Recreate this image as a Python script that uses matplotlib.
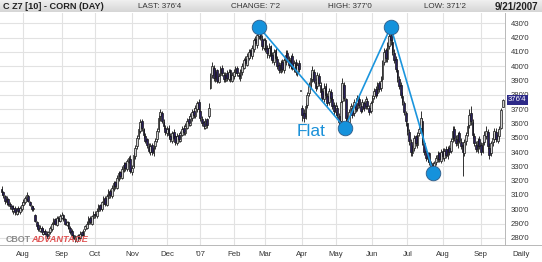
import numpy as np
import pandas as pd
import matplotlib
matplotlib.use('Agg')
import matplotlib.pyplot as plt
from matplotlib.lines import Line2D

plt.rcParams['font.family'] = ['Liberation Sans', 'DejaVu Sans']

# ---------------- data ----------------
holidays = ['2006-09-04', '2006-11-23', '2006-12-25', '2007-01-01', '2007-01-02',
            '2007-01-15', '2007-02-19', '2007-04-06', '2007-05-28', '2007-07-04', '2007-09-03']
start_date, end_date = '2006-07-13', '2007-09-21'

opens = [
    314, 312, 309, 305, 307, 304, 302, 299, 301, 297, 301, 298, 300,
    303, 305, 307, 309, 305, 302, 300, 296, 291, 289, 285, 287, 283, 285, 283, 280, 284, 286, 290, 293, 289, 294, 292,
    294, 296, 293, 289, 291, 287, 285, 282, 280, 278, 282, 280, 284, 281, 286, 287, 290, 294, 290, 294,
    297, 295, 299, 303, 300, 304, 308, 303, 308, 313, 309, 314, 319, 315, 321, 326, 322, 327, 332, 328, 333, 335,
    326, 330, 337, 344, 351, 355, 362, 356, 351, 349, 344, 340, 345, 339, 344, 349, 356, 365, 367, 361, 357,
    353, 357, 351, 348, 354, 351, 346, 352, 348, 352, 357, 353, 357, 363, 359, 364, 369, 365, 370, 375,
    369, 363, 361, 357, 363, 365, 385, 394, 399, 391, 397, 389, 394, 399, 394, 390, 395, 391, 397, 390,
    393, 395, 399, 394, 392, 396, 399, 405, 401, 406, 411, 407, 412, 419, 415, 421, 427, 419, 413,
    418, 413, 408, 414, 408, 403, 411, 405, 401, 396, 403, 397, 403, 409, 404, 400, 407, 398, 403, 395, 402, 383,
    371, 367, 365, 373, 381, 387, 391, 396, 389, 386, 393, 387, 383, 377, 386, 379, 375, 382, 377, 373,
    368, 371, 365, 362, 376, 387, 377, 363, 361, 369, 371, 367, 374, 371, 377, 372, 370, 374, 372, 376, 371, 369,
    375, 379, 384, 381, 388, 385, 391, 403, 411, 405, 414, 422, 417, 409, 405, 397, 391, 387, 379, 374, 367,
    360, 354, 347, 339, 343, 351, 345, 353, 357, 362, 346, 341, 335, 339, 332, 331, 327, 333, 335, 339, 334,
    341, 336, 342, 337, 343, 341, 349, 356, 349, 345, 353, 347, 345, 339, 348, 353, 359, 367, 361, 351, 345, 341, 349,
    345, 341, 347, 351, 354, 343, 339, 347, 349, 354, 348, 351, 357, 371.5,
]
highs = [
    316, 313, 310, 309, 308, 305, 303, 303, 302, 301, 302, 302, 305,
    307, 309, 312, 310, 306, 303, 302, 297, 292, 290, 289, 288, 287, 286, 285, 285, 288, 291, 294, 294, 295, 295, 297,
    298, 297, 294, 292, 292, 288, 286, 283, 282, 282, 283, 285, 285, 286, 289, 292, 295, 295, 296, 299,
    299, 301, 304, 304, 306, 309, 309, 311, 314, 314, 317, 320, 320, 324, 327, 327, 330, 333, 333, 335, 337, 338,
    331, 340, 345, 352, 358, 363, 363, 357, 353, 350, 346, 346, 346, 345, 350, 357, 366, 370, 369, 363, 359,
    358, 359, 353, 355, 356, 352, 353, 353, 355, 358, 359, 360, 364, 365, 367, 370, 371, 373, 376, 377,
    370, 365, 362, 364, 364, 374, 395, 403, 401, 398, 398, 395, 400, 401, 396, 396, 397, 398, 398, 396,
    398, 400, 400, 396, 398, 402, 406, 407, 409, 412, 412, 415, 420, 421, 424, 429, 430, 422, 420,
    420, 415, 416, 415, 410, 412, 413, 407, 403, 404, 405, 406, 411, 411, 407, 408, 409, 404, 405, 403, 404, 383,
    373, 370, 374, 382, 389, 395, 400, 398, 392, 396, 395, 389, 385, 388, 388, 381, 385, 384, 379, 375,
    375, 373, 367, 377, 392, 389, 378, 366, 370, 374, 373, 377, 376, 380, 379, 374, 377, 376, 379, 378, 373, 376,
    380, 385, 386, 389, 390, 393, 404, 413, 413, 417, 424, 425, 419, 412, 407, 399, 393, 389, 382, 376, 369,
    361, 356, 349, 345, 352, 352, 354, 358, 369, 364, 348, 343, 340, 340, 334, 333, 334, 338, 341, 340, 342,
    343, 343, 344, 344, 345, 350, 358, 358, 352, 354, 355, 350, 347, 349, 354, 361, 370, 372, 363, 353, 348, 350, 351,
    347, 348, 355, 358, 356, 346, 348, 353, 357, 357, 355, 358, 371, 377,
]
lows = [
    310, 308, 304, 303, 302, 300, 298, 297, 296, 296, 297, 297, 299,
    302, 304, 306, 305, 302, 299, 299, 291, 287, 285, 284, 283, 282, 282, 280, 279, 283, 285, 289, 289, 288, 291, 291,
    293, 292, 289, 288, 286, 283, 281, 279, 277, 277, 279, 279, 281, 280, 285, 286, 289, 290, 289, 293,
    294, 294, 298, 299, 299, 303, 302, 302, 307, 308, 308, 313, 314, 314, 320, 321, 321, 326, 327, 327, 332, 325,
    324, 329, 335, 342, 349, 353, 355, 350, 346, 343, 339, 338, 338, 337, 342, 347, 354, 362, 360, 356, 352,
    351, 350, 347, 346, 349, 345, 345, 347, 347, 351, 352, 352, 356, 358, 358, 362, 364, 364, 368, 368,
    362, 358, 356, 356, 357, 364, 384, 392, 390, 389, 388, 388, 393, 393, 389, 389, 390, 390, 389, 389,
    391, 393, 393, 391, 390, 394, 398, 400, 400, 404, 406, 405, 410, 414, 413, 419, 418, 411, 411,
    410, 406, 406, 405, 402, 401, 404, 398, 395, 395, 396, 395, 401, 403, 399, 398, 397, 396, 394, 393, 396, 383,
    362, 361, 363, 371, 379, 385, 389, 388, 383, 384, 386, 380, 376, 375, 378, 372, 373, 376, 370, 366,
    366, 364, 358, 360, 374, 376, 362, 358, 359, 366, 364, 365, 368, 369, 371, 367, 368, 369, 370, 370, 366, 367,
    373, 377, 378, 379, 382, 383, 390, 401, 403, 403, 412, 415, 408, 402, 396, 389, 384, 378, 373, 366, 358,
    352, 345, 337, 337, 341, 344, 343, 351, 355, 345, 338, 334, 333, 331, 328, 325, 326, 331, 333, 333, 332,
    335, 334, 336, 335, 338, 339, 347, 348, 344, 343, 346, 342, 323, 337, 345, 351, 357, 359, 350, 344, 340, 339, 342,
    338, 339, 345, 349, 342, 335, 337, 344, 347, 347, 346, 349, 356, 371.25,
]
closes = [
    312, 310, 306, 307, 304, 302, 300, 301, 298, 300, 299, 301, 303,
    305, 308, 310, 306, 303, 300, 301, 292, 288, 286, 287, 284, 285, 283, 281, 284, 287, 290, 292, 290, 294, 292, 295,
    296, 293, 290, 291, 287, 284, 282, 280, 279, 281, 280, 283, 282, 285, 288, 290, 293, 291, 295, 297,
    296, 299, 302, 300, 305, 307, 304, 309, 312, 310, 315, 318, 316, 322, 325, 323, 328, 331, 329, 334, 336, 327,
    329, 338, 343, 350, 356, 361, 357, 352, 348, 345, 341, 344, 340, 343, 348, 355, 364, 368, 362, 358, 354,
    356, 352, 349, 353, 350, 347, 351, 349, 353, 356, 354, 358, 362, 360, 365, 368, 366, 371, 374, 370,
    364, 360, 358, 362, 359, 371, 393, 400, 392, 396, 390, 393, 398, 395, 391, 394, 392, 396, 391, 394,
    396, 398, 395, 393, 397, 400, 404, 402, 407, 410, 408, 413, 418, 416, 422, 426, 420, 414, 418,
    412, 409, 413, 407, 404, 410, 406, 400, 397, 402, 398, 404, 408, 405, 401, 406, 399, 402, 396, 401, 398, 383,
    366, 364, 372, 380, 386, 392, 397, 390, 385, 394, 388, 382, 378, 385, 380, 374, 383, 378, 372, 369,
    372, 366, 361, 375, 388, 378, 364, 360, 368, 372, 366, 375, 370, 378, 373, 369, 375, 371, 377, 372, 368, 374,
    378, 383, 380, 387, 384, 390, 402, 410, 406, 415, 421, 418, 410, 404, 398, 392, 386, 380, 375, 368, 362,
    355, 348, 340, 342, 350, 346, 352, 356, 364, 347, 340, 336, 338, 333, 330, 328, 332, 336, 338, 335, 340,
    337, 341, 338, 342, 340, 348, 355, 350, 346, 352, 348, 344, 340, 347, 352, 358, 366, 362, 352, 346, 342, 348, 344,
    340, 346, 352, 355, 344, 338, 346, 350, 355, 349, 352, 356, 369.25, 376.5,
]

# hand-drawn "M" pattern annotation (bar index, price)
pattern_idx = [154, 205.5, 233, 258.5]
pattern_val = [427.5, 357, 427.5, 325.5]
pattern_label = 'Flat'

price_ticks = list(range(280, 431, 10))
month_names = {1: "'07", 2: 'Feb', 3: 'Mar', 4: 'Apr', 5: 'May', 6: 'Jun', 7: 'Jul',
               8: 'Aug', 9: 'Sep', 10: 'Oct', 11: 'Nov', 12: 'Dec'}

# ---------------- helpers ----------------
def fmt(v):
    whole = int(np.floor(v + 1e-9))
    eighths = int(round((v - whole) * 8))
    return f"{whole}'{eighths}"

o = np.array(opens, float); h = np.array(highs, float)
l = np.array(lows, float); c = np.array(closes, float)
n = len(c)
dates = pd.bdate_range(start_date, end_date, freq='C', holidays=holidays)[:n]
xi = np.arange(n)
month_idx = [i for i in range(1, n) if dates[i].month != dates[i - 1].month]
month_lbl = [month_names[dates[i].month] for i in month_idx]

W, H = 542, 262
fig = plt.figure(figsize=(W / 100, H / 100), dpi=100)
fig.patch.set_facecolor('white')

def px(x0, y0, x1, y1):
    return [x0 / W, 1 - y1 / H, (x1 - x0) / W, (y1 - y0) / H]

# header band
hax = fig.add_axes(px(0, 0, 542, 12.5))
grad = np.linspace(0, 1, 50).reshape(-1, 1)
hax.imshow(grad, aspect='auto', cmap=matplotlib.colors.LinearSegmentedColormap.from_list(
    'g', ['#f2f2f2', '#d6d6d6']), extent=[0, 1, 0, 1])
hax.set_axis_off()

ty = 1 - 6.5 / H
fig.text(3 / W, ty, 'C Z7 [10] - CORN (DAY)', fontsize=6.6, weight='bold', color='#222222', va='center')
fig.text(138 / W, ty, f'LAST: {fmt(c[-1])}', fontsize=5.8, color='#333333', va='center')
fig.text(231 / W, ty, f'CHANGE: {fmt(c[-1] - c[-2])}', fontsize=5.8, color='#333333', va='center')
fig.text(328 / W, ty, f'HIGH: {fmt(h[-1])}', fontsize=5.8, color='#333333', va='center')
fig.text(424 / W, ty, f'LOW: {fmt(l[-1])}', fontsize=5.8, color='#333333', va='center')
d = dates[-1]
fig.text(538 / W, ty, f'{d.month}/{d.day}/{d.year}', fontsize=7, weight='bold', color='#222222',
         va='center', ha='right')

# main chart
ax = fig.add_axes(px(0, 13, 505, 245))
ax.set_xlim(-0.96, 301.4)
ax.set_ylim(275.0, 437.2)
ax.set_yticks(price_ticks)
ax.set_yticklabels([fmt(v) for v in price_ticks])
ax.yaxis.tick_right()
ax.set_xticks(month_idx)
ax.set_xticklabels(month_lbl)
ax.tick_params(axis='y', length=0, pad=4, labelsize=5.6, labelcolor='#333333')
ax.tick_params(axis='x', length=0, pad=4.5, labelsize=5.6, labelcolor='#333333')
ax.grid(True, color='#e2e2e2', lw=0.8, zorder=0)
ax.set_axisbelow(True)
for s in ['top', 'left']:
    ax.spines[s].set_visible(False)
ax.spines['right'].set_color('#b8b8b8'); ax.spines['right'].set_linewidth(0.7)
ax.spines['bottom'].set_color('#b8b8b8'); ax.spines['bottom'].set_linewidth(0.7)

up = c >= o
ax.vlines(xi, l, h, color='#111111', lw=0.6, zorder=3)
bb = np.minimum(o, c)
bh = np.maximum(np.abs(c - o), 0.6)
ax.bar(xi[up], bh[up], bottom=bb[up], width=1.05, facecolor='#cfcfcf', edgecolor='#161616', lw=0.5, zorder=4)
ax.bar(xi[~up], bh[~up], bottom=bb[~up], width=1.05, facecolor='#2a1f5c', edgecolor='#161616', lw=0.5, zorder=4)

# pattern annotation
ax.plot(pattern_idx, pattern_val, color='#1b95dd', lw=1.2, zorder=6, solid_capstyle='round')
ax.plot(pattern_idx, pattern_val, 'o', ms=10.5, mfc='#1592dc', mec='#2f5a86', mew=0.6, zorder=7,
        clip_on=False)
ax.text(185.3, 354.5, pattern_label, color='#1a90d8', fontsize=12.5, ha='center', va='center', zorder=8)

# last price box (covers the neighbouring grid label, as in the original)
ax.text(1.006, c[-1], fmt(c[-1]), transform=ax.get_yaxis_transform(), ha='left', va='center',
        fontsize=5.6, color='white', zorder=9,
        bbox=dict(boxstyle='square,pad=0.18', fc='#2d2a88', ec='none'))

# watermark
fig.text(6 / W, 1 - 239.5 / H, 'CBOT', fontsize=6.4, weight='bold', color='#8c8c8c', va='center')
fig.text(31.5 / W, 1 - 239.5 / H, 'ADVANTAGE', fontsize=6.6, weight='bold', style='italic',
         color='#e05454', va='center')

# bottom strip
fig.add_artist(Line2D([505 / W, 1], [1 - 245 / H] * 2, color='#b8b8b8', lw=0.7))
fig.text(521 / W, 1 - 254 / H, 'Daily', fontsize=5.6, color='#333333', ha='center', va='center')

fig.savefig('out.png', dpi=100, facecolor='white')
